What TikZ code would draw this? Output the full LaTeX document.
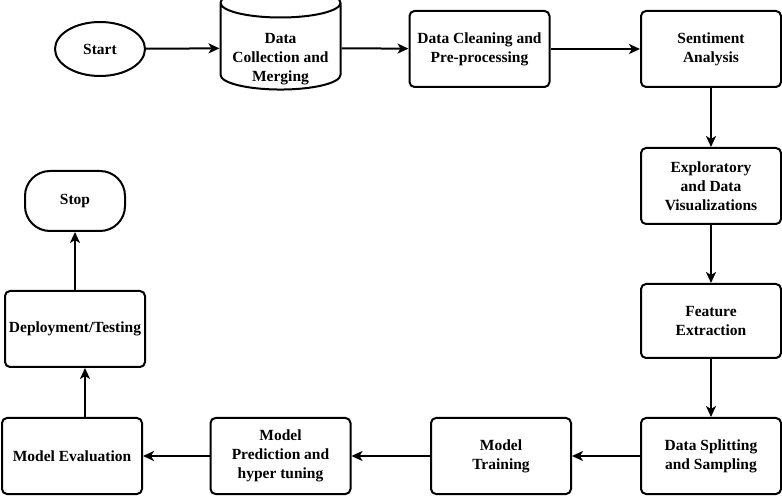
\documentclass[tikz,border=0pt]{standalone}
\usepackage{fontspec}
\setmainfont{Liberation Serif}
\usetikzlibrary{shapes.geometric,arrows.meta}
\tikzset{
	procbox/.style={draw, line width=2pt, rounded corners=5pt, minimum width=140pt, minimum height=76pt, align=center, inner sep=1pt},
	flow/.style={line width=2pt, -{Stealth[length=11pt,width=10pt,inset=3pt]}}
}
\begin{document}
\begin{tikzpicture}[x=1pt, y=-1pt, font=\fontsize{15.5}{19}\selectfont\bfseries, line join=round]
	\useasboundingbox (0,0) rectangle (782,502);
	% top row
	\node[draw, line width=2pt, ellipse, minimum width=90pt, minimum height=54pt, inner sep=0pt] (start) at (100,49) {Start};
	\node[draw, line width=2pt, cylinder, shape border rotate=90, aspect=0.3, minimum width=120pt, minimum height=92pt, inner sep=1pt] (collect) at (280.5,48) {\raisebox{-11pt}[\height][\depth]{\begin{tabular}{@{}c@{}}Data\\Collection and\\Merging\end{tabular}}};
	\node[procbox] (clean) at (479.5,49) {Data Cleaning and\\Pre-processing};
	\node[procbox] (senti) at (711,49) {Sentiment\\Analysis};
	% right column
	\node[procbox] (explore) at (711,186) {Exploratory\\and Data\\Visualizations};
	\node[procbox, minimum height=74pt] (feature) at (711,321) {Feature\\Extraction};
	\node[procbox] (split) at (711,456) {Data Splitting\\and Sampling};
	% bottom row
	\node[procbox] (train) at (501,456) {Model\\Training};
	\node[procbox] (predict) at (280.5,456) {Model\\Prediction and\\hyper tuning};
	\node[procbox] (eval) at (72,456) {Model Evaluation};
	% left column
	\node[procbox] (deploy) at (75,329) {Deployment/Testing};
	\node[draw, line width=2pt, rounded corners=25pt, minimum width=100pt, minimum height=60pt] (stop) at (75,201) {Stop};
	% connectors
	\draw[flow] (start) -- (collect);
	\draw[flow] (collect) -- (clean);
	\draw[flow] (clean) -- (senti);
	\draw[flow] (senti) -- (explore);
	\draw[flow] (explore) -- (feature);
	\draw[flow] (feature) -- (split);
	\draw[flow] (split) -- (train);
	\draw[flow] (train) -- (predict);
	\draw[flow] (predict) -- (eval);
	\draw[flow] ([xshift=13pt]eval.north) -- ([xshift=13pt]eval.north |- deploy.south);
	\draw[flow] (deploy) -- (stop);
\end{tikzpicture}
\end{document}
